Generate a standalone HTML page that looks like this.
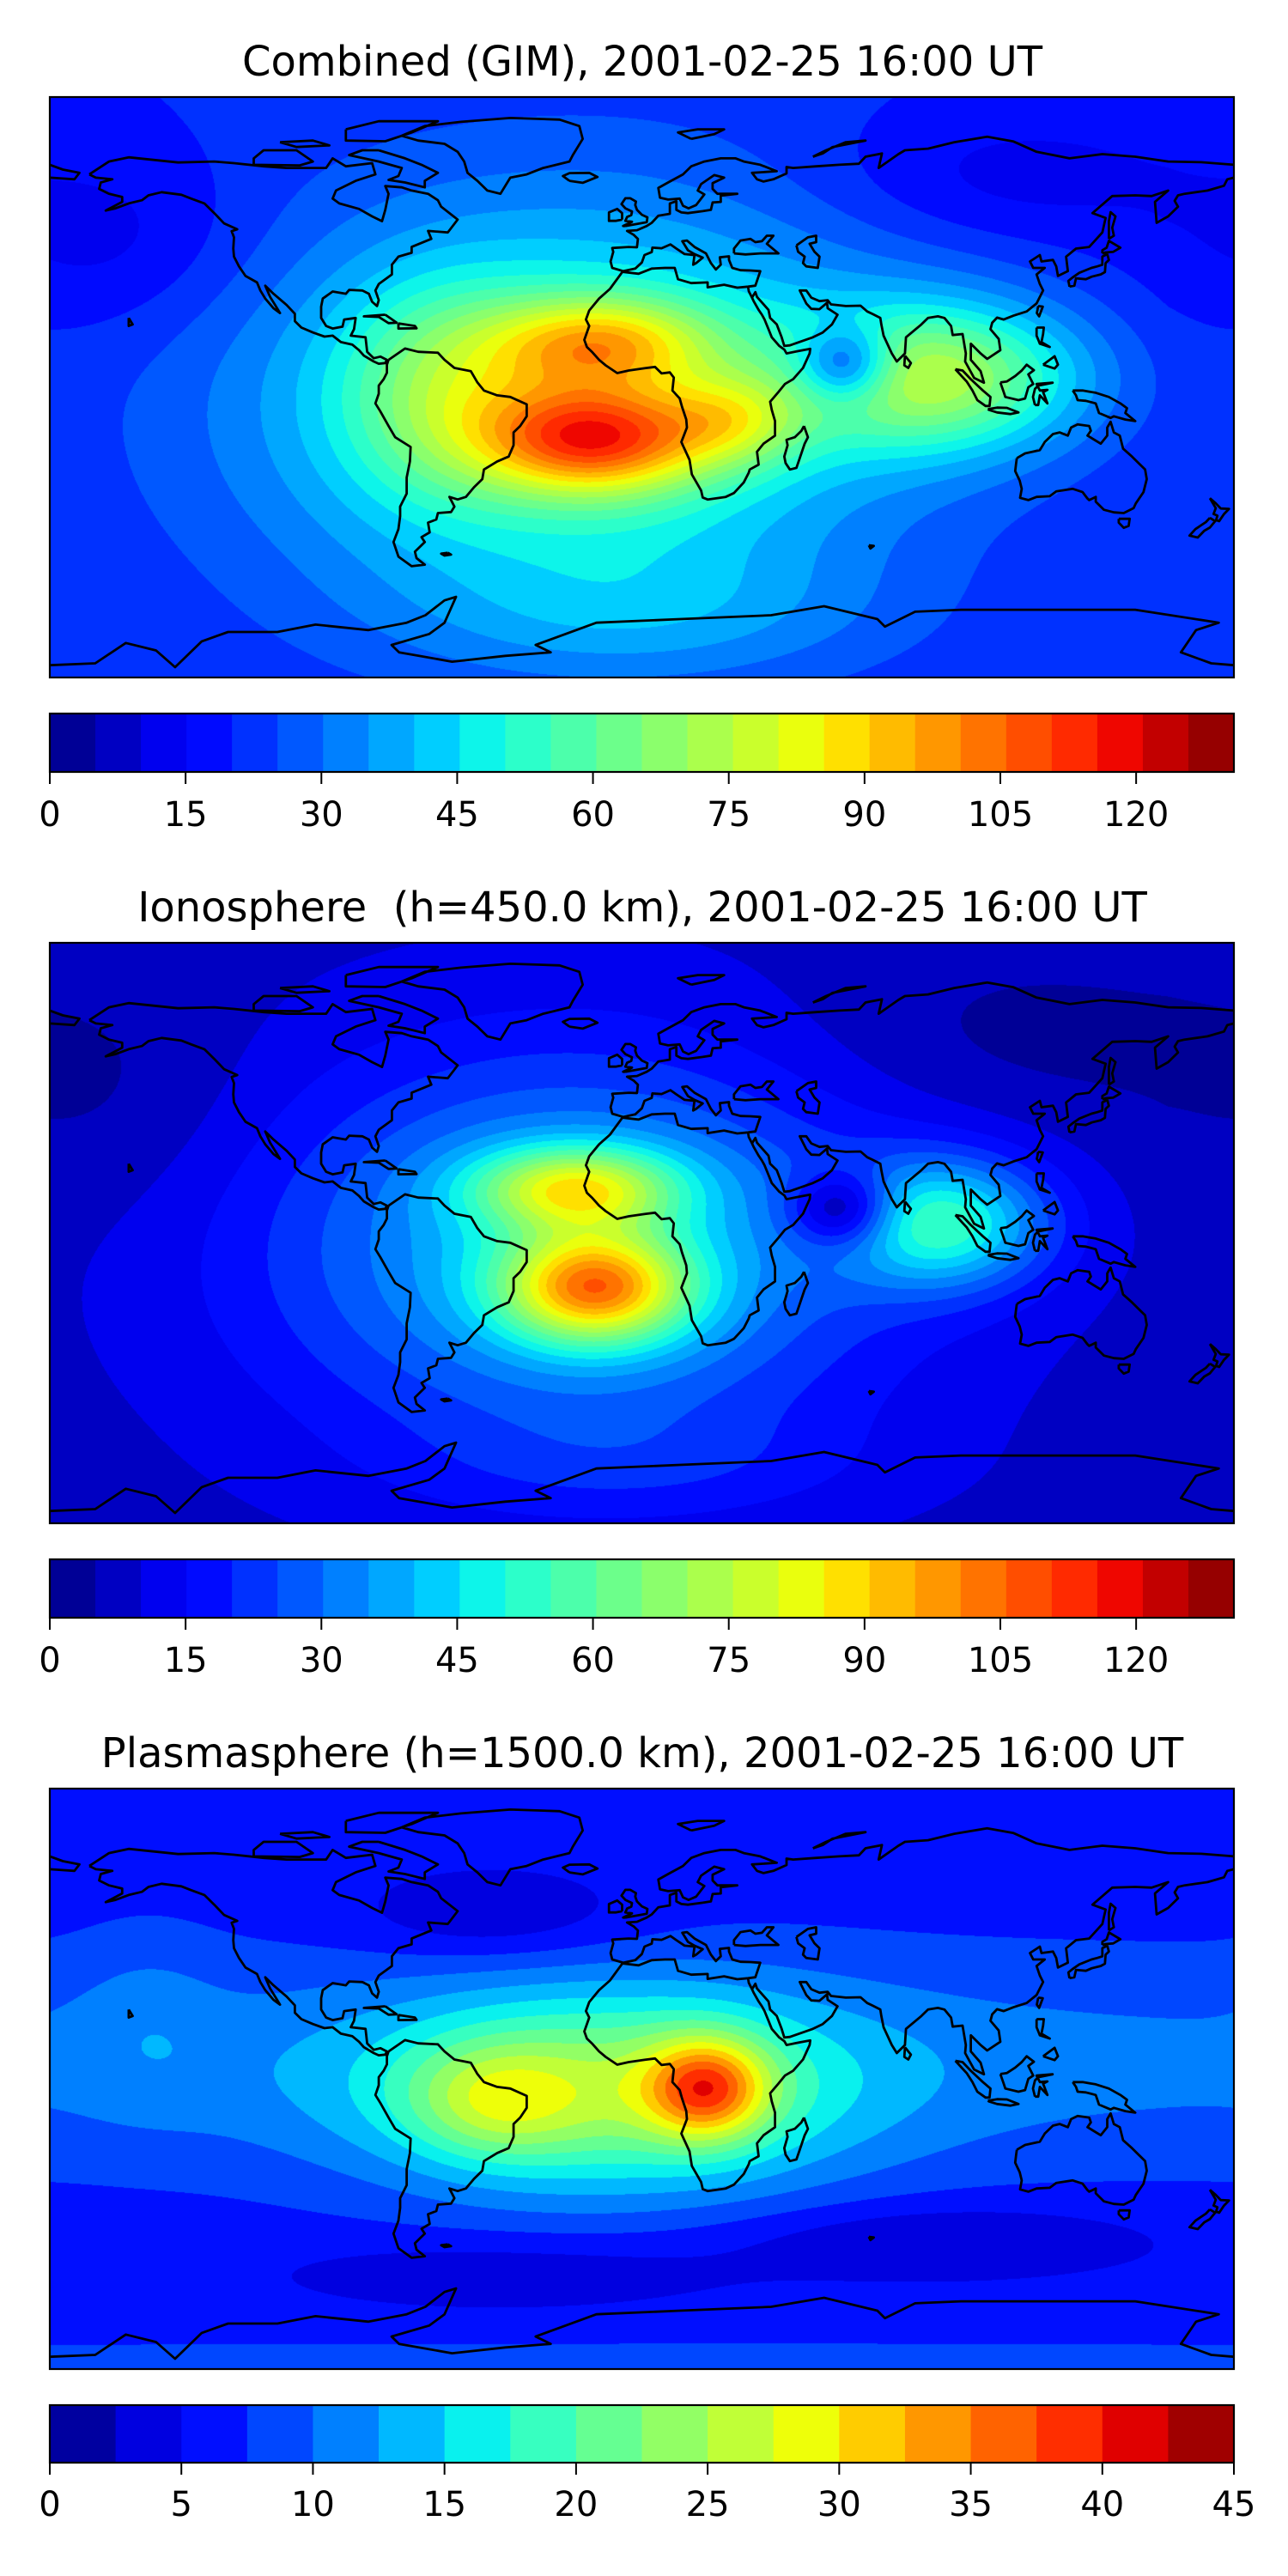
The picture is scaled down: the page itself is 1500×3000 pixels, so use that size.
<!DOCTYPE html>
<html><head><meta charset="utf-8">
<style>
html,body{margin:0;padding:0;background:#fff;}
body{width:1500px;height:3000px;position:relative;overflow:hidden;font-family:"DejaVu Sans","Liberation Sans",sans-serif;}
canvas{position:absolute;left:58px;}
#ov{position:absolute;left:0;top:0;}
</style></head>
<body>
<canvas id="m0" width="1379" height="676" style="top:113px"></canvas>
<canvas id="m1" width="1379" height="676" style="top:1098px"></canvas>
<canvas id="m2" width="1379" height="676" style="top:2083px"></canvas>
<svg id="ov" width="1500" height="3000" xmlns="http://www.w3.org/2000/svg">
<g font-family="DejaVu Sans, Liberation Sans, sans-serif" fill="#000">
<text x="748" y="88" font-size="48" text-anchor="middle">Combined (GIM), 2001-02-25 16:00 UT</text>
<text x="748" y="1073" font-size="48" text-anchor="middle" style="white-space:pre" xml:space="preserve">Ionosphere  (h=450.0 km), 2001-02-25 16:00 UT</text>
<text x="748" y="2058" font-size="48" text-anchor="middle">Plasmasphere (h=1500.0 km), 2001-02-25 16:00 UT</text>
</g>
<g id="coasts"></g>
<g id="cbars"></g>
</svg>
<script>
// ---- colorbar data ----
const cbMax = [130.8, 130.8, 45];
const cbBins = [26, 26, 18];
const ticks0 = [0, 15, 30, 45, 60, 75, 90, 105, 120];
const ticks1 = [0, 15, 30, 45, 60, 75, 90, 105, 120];
const ticks2 = [0, 5, 10, 15, 20, 25, 30, 35, 40, 45];

// ---- field data (Gaussian features) ----
const base0 = 20;
const blobLon0 = [-20, -14, -12, 28, 90, 62, -60, 110, -160, 0];
const blobLat0 = [-5, -16, 14, -10, 3, 7, -2, 65, 45, -70];
const blobAmp0 = [37, 60, 42, 25, 45, -32, 22, -8, -8, 10];
const blobSLon0 = [70, 24, 24, 15, 30, 10, 22, 40, 30, 50];
const blobSLat0 = [45, 12, 10, 10, 16, 8, 22, 15, 20, 15];

const base1 = 8;
const blobLon1 = [-20, -14, -20, 92, 61, 110, -160, 0];
const blobLat1 = [-5, -17, 14, 3, 7, 60, 40, -72];
const blobAmp1 = [35, 65, 48, 40, -28, -5, -4, 6];
const blobSLon1 = [65, 20, 22, 22, 11, 50, 30, 50];
const blobSLat1 = [42, 12, 9, 14, 8, 20, 25, 12];

const base2 = 6;
const blobLon2 = [0, 20, -10, -45, -150, -45, 90, -40, 0];
const blobLat2 = [5, -3, -5, -7, 20, 50, -50, -60, -88];
const blobAmp2 = [5, 18, 14, 8, 2, -4, -4, -3, 3];
const blobSLon2 = [400, 13, 50, 18, 15, 30, 45, 50, 400];
const blobSLat2 = [25, 11, 22, 12, 20, 10, 8, 8, 5];

const panels = [
  {base:base0, lon:blobLon0, lat:blobLat0, amp:blobAmp0, sl:blobSLon0, sb:blobSLat0, max:cbMax[0], bins:cbBins[0], ticks:ticks0, top:113, cbTop:831, cbH:68, lblY:962, name:'combined'},
  {base:base1, lon:blobLon1, lat:blobLat1, amp:blobAmp1, sl:blobSLon1, sb:blobSLat1, max:cbMax[1], bins:cbBins[1], ticks:ticks1, top:1098, cbTop:1816, cbH:68, lblY:1947, name:'ionosphere'},
  {base:base2, lon:blobLon2, lat:blobLat2, amp:blobAmp2, sl:blobSLon2, sb:blobSLat2, max:cbMax[2], bins:cbBins[2], ticks:ticks2, top:2083, cbTop:2801, cbH:67, lblY:2930, name:'plasmasphere'}
];

function interp(pts, t){
  for(let i=1;i<pts.length;i++){
    if(t<=pts[i][0]){const a=pts[i-1],b=pts[i];return a[1]+(b[1]-a[1])*(t-a[0])/(b[0]-a[0]);}
  }
  return pts[pts.length-1][1];
}
const JR=[[0,0],[0.35,0],[0.66,1],[0.89,1],[1,0.5]];
const JG=[[0,0],[0.125,0],[0.375,1],[0.64,1],[0.91,0],[1,0]];
const JB=[[0,0.5],[0.11,1],[0.34,1],[0.65,0],[1,0]];
function jet(t){return [Math.round(255*interp(JR,t)),Math.round(255*interp(JG,t)),Math.round(255*interp(JB,t))];}

const W=1379,H=676,L=58;
const NS='http://www.w3.org/2000/svg';

panels.forEach((p,pi)=>{
  const cv=document.getElementById('m'+pi);
  const ctx=cv.getContext('2d');
  const img=ctx.createImageData(W,H);
  const cols=[];for(let i=0;i<p.bins;i++)cols.push(jet((i+0.5)/p.bins));
  const n=p.lon.length;
  const gx=[],gy=[];
  for(let k=0;k<n;k++){
    const ax=new Float32Array(W),ay=new Float32Array(H);
    for(let x=0;x<W;x++){let lo=-180+(x+0.5)/W*360;let d=lo-p.lon[k];d=((d+540)%360)-180;ax[x]=Math.exp(-d*d/(2*p.sl[k]*p.sl[k]));}
    for(let y=0;y<H;y++){const la=90-(y+0.5)/H*180;const d=la-p.lat[k];ay[y]=Math.exp(-d*d/(2*p.sb[k]*p.sb[k]));}
    gx.push(ax);gy.push(ay);
  }
  const step=p.max/p.bins;
  for(let y=0;y<H;y++)for(let x=0;x<W;x++){
    let v=p.base;
    for(let k=0;k<n;k++)v+=p.amp[k]*gx[k][x]*gy[k][y];
    let b=Math.floor(v/step);if(b<0)b=0;if(b>=p.bins)b=p.bins-1;
    const c=cols[b],o=(y*W+x)*4;
    img.data[o]=c[0];img.data[o+1]=c[1];img.data[o+2]=c[2];img.data[o+3]=255;
  }
  ctx.putImageData(img,0,0);

  const g=document.getElementById('cbars');
  const bw=W/p.bins;
  for(let i=0;i<p.bins;i++){
    const c=cols[i];
    const r=document.createElementNS(NS,'rect');
    
    
    r.setAttribute('x',L+i*bw);r.setAttribute('y',p.cbTop);r.setAttribute('width',bw+0.6);r.setAttribute('height',p.cbH);
    r.setAttribute('fill','rgb('+c.join(',')+')');
    g.appendChild(r);
  }
  const fr=document.createElementNS(NS,'rect');
  
  
  fr.setAttribute('x',L);fr.setAttribute('y',p.cbTop);fr.setAttribute('width',W);fr.setAttribute('height',p.cbH);
  fr.setAttribute('fill','none');fr.setAttribute('stroke','#000');fr.setAttribute('stroke-width','2.2');
  g.appendChild(fr);
  p.ticks.forEach(t=>{
    const x=L+t/p.max*W;
    const tl=document.createElementNS(NS,'line');
    
    
    tl.setAttribute('x1',x);tl.setAttribute('x2',x);tl.setAttribute('y1',p.cbTop+p.cbH);tl.setAttribute('y2',p.cbTop+p.cbH+14);
    tl.setAttribute('stroke','#000');tl.setAttribute('stroke-width','2');
    g.appendChild(tl);
    const tx=document.createElementNS(NS,'text');
    
    
    tx.setAttribute('x',x);tx.setAttribute('y',p.lblY);tx.setAttribute('text-anchor','middle');
    tx.setAttribute('font-size','40');tx.setAttribute('font-family','DejaVu Sans, Liberation Sans, sans-serif');
    tx.textContent=String(t);
    g.appendChild(tx);
  });
});

const coastlines=[
[[-168,66],[-162,70],[-156,71.3],[-141,69.7],[-130,70],[-124,69.5],[-115,68.5],[-108,68],[-96,68],[-94,71],[-90,68.5],[-82,69.5],[-81,66],[-87,64],[-93,61],[-94,58.5],[-92,57],[-86,55.3],[-82,53],[-79,51.5],[-78,55],[-77,60],[-78,62.4],[-73,62],[-70,61],[-65,60],[-62,58],[-61,56],[-56,52],[-59,48],[-65,48.5],[-64,46],[-70,43.5],[-70,41.7],[-74,40.5],[-76,38],[-76,35],[-80,32],[-81,30],[-80,27],[-80.5,25.2],[-82,26.5],[-83,29],[-85,30],[-89,30.2],[-90,29],[-94,29.7],[-97,27.5],[-97.5,25],[-97.5,21.5],[-96,19],[-94,18.2],[-91,18.8],[-90.5,21],[-87,21.5],[-87.5,18],[-88.5,16],[-84,15.5],[-83.5,11],[-81.5,9],[-79.5,9.5],[-77.5,8.5],[-78,7.5],[-80,7.3],[-81.5,8],[-84.5,9.8],[-86,11.5],[-88,13.2],[-91.5,14],[-94,16],[-96.5,15.7],[-100,17],[-103.5,18.5],[-105.5,20.5],[-105.5,22.8],[-108,25.5],[-112,29],[-114.5,31.5],[-113,28],[-111.5,25.5],[-110,23],[-112,24.5],[-114.5,27.5],[-116,30],[-117,32.5],[-120.5,34.5],[-122.5,37.5],[-124,40.5],[-124.2,43],[-124,46.5],[-124.7,48.4],[-123,49],[-127,50.8],[-130,54],[-133,57],[-137,58.5],[-140,59.7],[-146,60.5],[-150,59.5],[-152,58],[-156,57],[-160,55.5],[-163,54.8],[-158,57.5],[-158,59],[-162,60],[-165,61.5],[-164.5,63.5],[-161,64.5],[-166,65],[-168,66]],
[[-73,78],[-66,81],[-55,82.3],[-40,83.5],[-25,83],[-19,81],[-18,77],[-21,72],[-22,70],[-30,68],[-35,66],[-40,65],[-43,60],[-47,61],[-50,64],[-53,66.5],[-54,70],[-56,73],[-60,75.5],[-68,76.5],[-73,78]],
[[-80,73.5],[-72,71],[-67,69],[-62,66.5],[-66,64],[-66,62],[-72,63.5],[-77,64.3],[-74,65.5],[-73,68],[-80,70],[-89,72],[-85,73.5],[-80,73.5]],
[[-90,80],[-80,82.5],[-62,82.5],[-70,79],[-78,76.3],[-90,76.5],[-90,80]],
[[-118,69],[-104,68.8],[-100,70],[-105,73.5],[-115,73.5],[-118,71],[-118,69]],
[[-110,76],[-100,76.5],[-95,75],[-105,74.5],[-110,76]],
[[-77,8.5],[-72,12],[-68,11],[-62,10.7],[-60,8.5],[-57,6],[-52,5],[-50,1.5],[-48,-1],[-44,-2.5],[-40,-3],[-35,-5.3],[-35,-9],[-37,-12],[-39,-14],[-39,-18],[-40.5,-21.5],[-44,-23],[-48,-25.5],[-48.5,-28.5],[-51,-31],[-53.5,-34],[-56,-34.8],[-58.5,-34],[-57,-37],[-58,-38.7],[-62,-39],[-62.5,-41],[-65,-42],[-64.5,-45],[-67,-46.5],[-66,-48],[-69,-51],[-68.5,-53],[-66,-55],[-70,-55.5],[-74,-52.5],[-75.5,-48],[-74,-44],[-73.5,-40],[-73.5,-37],[-71.5,-33],[-71.5,-28],[-70.5,-23],[-70.3,-18.5],[-75,-15.5],[-77,-12],[-79.5,-7.5],[-81,-5],[-80,-2],[-80,0.5],[-78.5,2.5],[-77.5,4.5],[-77.5,7],[-77,8.5]],
[[-5.6,36],[-9,37],[-9.5,39],[-8.7,42],[-9,43.2],[-4,43.5],[-1.5,43.4],[-1.2,46],[-2.5,47.3],[-4.5,48.5],[-1.5,48.7],[1.5,50],[3,51],[5,53.2],[8.5,53.8],[8.5,57],[10.5,57.7],[10.5,55],[12,54.2],[14,54],[18.5,54.6],[21,55],[21.5,57.3],[24,57.5],[24,59.4],[29,60],[23,60],[21.5,61.5],[21.5,63.3],[25,65],[22,65.8],[18,63],[17,61],[19,59.8],[16.5,56.5],[14.2,55.5],[12.5,56.3],[11.5,58.5],[8,58.2],[5.5,58.8],[5,61.8],[8,63.5],[12.5,66],[15,68.5],[19,70],[24,71],[28.5,71],[31,70],[36,69],[41,67],[33.5,66.5],[35,64.5],[37,63.8],[40,64.5],[44,66.3],[44,68.3],[46,68],[53,68.5],[60,69],[66,69.3],[68,71.5],[73,72.5],[72,68],[78,72.3],[80,73.5],[87,74],[95,76],[105,77.7],[113,76.2],[120,73],[130,71],[140,72.3],[150,71.5],[160,70],[170,69.8],[180,69]],
[[180,65],[178,64.5],[177,62.5],[172,61],[165,60],[163,59.5],[162,57.8],[163,56],[160,53],[156.5,51],[156,57.5],[160,61],[155,59.3],[150,59.5],[143,59.3],[137,54],[141,52.5],[140,48],[136,43.5],[132,43],[129,40.5],[129.5,36],[126.5,34.5],[126,37.5],[125,39.5],[121.5,39],[121,41],[118,39],[119,37],[122.5,37],[120,35],[121,32],[122,30],[120,26],[117,23.5],[113,22.2],[110,21],[108,21.6],[106.5,20],[106,18],[108.5,15],[109,11.5],[105,8.8],[103,10.5],[100,13.5],[100,8.5],[103,5],[104,1.4],[101,2.9],[98.3,8],[98.5,10.5],[97.5,16.5],[94.5,16.2],[94,19],[92,21.5],[90,22],[87,21.5],[85,19.5],[80.3,15.5],[80,10.5],[77.5,8],[76,10.5],[73.5,16],[72.8,19.5],[72.5,21.5],[70,22.8],[68.5,23.5],[66.5,25.3],[62,25.2],[57.5,25.7],[56.5,27],[54,26.7],[51.5,27.8],[50,30],[48,30],[50,26],[51.5,24.3],[54,24.2],[56.3,26.2],[56.5,24.5],[59.5,22.5],[57.8,19.5],[55,17],[52,15.5],[45,13],[43.3,12.8],[42.5,15.5],[41,19.5],[39,21.5],[38.5,24],[35,28],[34.5,29.5],[33.5,27.8]],
[[32.3,31.2],[34.5,31.5],[35,33],[36,36],[33,36.2],[30,36.3],[27.5,37],[26.5,39.5],[26.5,40.6],[23.7,40.3],[24,38],[22.5,36.5],[21,38.5],[19.5,41.5],[16,43.5],[13.7,45.5],[12.3,45.3],[14,42.5],[16,41.3],[18.5,40.2],[16.5,38.5],[15.6,38],[16,41],[13,41.3],[10.5,43],[8.7,44.3],[6,43.1],[3.2,43.3],[3,41.9],[0.8,41],[0,38.7],[-2,36.8],[-5.6,36]],
[[-180,69],[-176,67.5],[-171,66.5],[-172.5,64.5],[-180,65]],
[[28,41.5],[28,43],[30,45.5],[33,46],[34.5,45],[36.5,45.3],[38,47],[40,47],[38,44.5],[41.5,41.5],[36,41.5],[31.5,41.2],[28,41.5]],
[[47,44],[50.5,46.5],[53,47],[53,45],[51,44.5],[52.5,42],[54,40.5],[53.5,37],[50,37.5],[49,38.5],[49.5,40.5],[47.5,42],[47,44]],
[[32.3,31.2],[29,30.9],[25,31.8],[20,31],[20,32.5],[15,32.3],[11,33.5],[10,37],[7,37],[3,36.8],[-1,35.2],[-5.9,35.8],[-9.7,30.5],[-13,27.5],[-16,23.8],[-17,21],[-16,19],[-17.5,14.7],[-16.7,12.5],[-15,10.8],[-13,8.5],[-11,6.8],[-7.5,4.4],[-4,5.2],[1,5.9],[4,6.3],[6,4.3],[8.5,4.6],[9.7,3],[9.5,1],[9.3,-1],[11.5,-3.5],[12.2,-6],[13.5,-10],[13.7,-12.5],[12,-17],[14.5,-22.5],[15.2,-27],[18,-32],[18.5,-34.2],[20,-34.8],[25.5,-34],[28,-32.8],[31,-29.5],[32.5,-26.5],[32.8,-25.5],[35.5,-24],[35,-20],[37,-17.5],[40.5,-15],[40.5,-10.5],[39.5,-7],[39,-4.5],[41.5,-1.5],[43.5,1],[46,2.5],[49,6],[51,10.5],[51.2,11.9],[47.5,11.2],[44,10.5],[43.3,11.7],[41.8,12.8],[39.5,15.5],[38.5,18],[37.3,21],[36.5,22.5],[35.5,24],[34,26.7],[33.5,27.8],[32.5,29.8],[32.3,31.2]],
[[49.3,-12],[50.5,-15.5],[49.5,-17.5],[48,-22],[47,-25],[45,-25.5],[43.7,-23.5],[43.3,-21.5],[44.3,-18],[44,-16.3],[46.5,-15.5],[48.5,-13.5],[49.3,-12]],
[[-5,50],[1.5,51.2],[1.7,52.7],[0,53.5],[-1.5,55],[-2,56.5],[-1.8,57.6],[-3.5,58.6],[-5,58.6],[-6.2,56.8],[-5,55.5],[-3,54.5],[-3.2,53.4],[-4.5,52.8],[-5,51.6],[-3,51.3],[-5.7,50],[-5,50]],
[[-6,52],[-6,54],[-7.5,55.3],[-10,54.2],[-10,51.6],[-8,51.6],[-6,52]],
[[-22,64],[-24,65.5],[-22,66.4],[-16,66.5],[-13.5,65.2],[-18,63.4],[-22,64]],
[[15,77],[22,78.5],[25,80],[17,80],[11,79],[15,77]],
[[52,71.5],[56,73.5],[62,76],[68,76.5],[58,74.5],[55,72.5],[52,71.5]],
[[130,31.2],[131.5,31.5],[132,33.8],[135,33.5],[136.8,34.3],[139.5,35],[140.8,35.7],[141,38.5],[142,39.5],[141.5,41.3],[140,40.5],[140,38],[138.5,37.5],[136.7,37],[133,35.5],[130.9,34],[129.7,33],[130,31.2]],
[[140,41.5],[141,41.8],[143.3,42],[145.5,43.3],[142,45.4],[141.3,43.3],[140,42.5],[140,41.5]],
[[142,46],[143.5,47],[143,49.5],[144,53],[142.5,54.3],[142,51.5],[142,46]],
[[80,9.8],[81.8,7.5],[81,6],[79.8,6.8],[80,9.8]],
[[120.5,25.2],[121.9,25],[120.8,22],[120.1,23],[120.5,25.2]],
[[109,1.5],[110,-1.5],[110.5,-3],[114.5,-4],[116.5,-3.5],[117.5,0],[119,1],[117.5,4],[119.2,5.3],[117,7],[115.5,5.2],[113.5,3.5],[111,1.8],[109,1.5]],
[[95.3,5.6],[97.5,5.2],[100,2.5],[103.7,-1],[106,-3],[105.7,-5.8],[104.5,-5.8],[102,-4],[100.5,-1],[98.8,1.7],[95.3,5.6]],
[[105.2,-6.8],[108,-6.3],[111,-6.4],[114.5,-7.8],[112,-8.3],[108,-7.8],[105.5,-7],[105.2,-6.8]],
[[119.5,-5.5],[120.5,-5.5],[121,-2.5],[123.3,-5],[122,-1.5],[123.3,-0.8],[121,-1],[120,1],[124.9,1.4],[120.5,0.5],[119.5,-0.5],[118.9,-3],[119.5,-5.5]],
[[120,18.5],[122.2,18.5],[122,16.5],[121.5,14],[124,12.5],[121,13.5],[120.6,14.5],[120,16],[120,18.5]],
[[122,7],[125.5,9.6],[126.5,7],[125.5,5.8],[124,6.3],[122,7]],
[[131,-1],[134,-1],[138,-1.7],[142,-3],[145.5,-5],[147.5,-6.5],[147,-8],[150,-10.5],[147,-10],[143.5,-9],[142.5,-9.5],[139,-8],[138,-5],[135,-4.2],[132.5,-4],[132,-2.5],[131,-1]],
[[114,-22],[116.5,-20.5],[121,-19.5],[122.5,-17],[125,-14.5],[127,-14],[129.5,-15],[130.5,-12.5],[132.5,-11.5],[136,-12],[136.5,-13.5],[135.5,-15],[139.5,-17.5],[141.5,-15],[141.5,-12.5],[142.5,-10.7],[143.5,-14],[145.3,-15],[146.3,-19],[149,-21.5],[151,-23.5],[153,-25.5],[153.5,-28.5],[152.5,-32.5],[150.2,-36],[149.5,-37.5],[146.5,-39],[143.5,-38.8],[140.5,-38],[138,-35.5],[138,-34],[136,-35],[135.5,-34.5],[134,-32.5],[131,-31.5],[126,-32.3],[124,-33.8],[120,-34],[117.5,-35],[115,-34.3],[115.5,-31.5],[114.9,-29],[113.5,-26],[113.8,-23.5],[114,-22]],
[[145,-40.8],[148.3,-40.8],[148,-43],[146.5,-43.6],[145,-42],[145,-40.8]],
[[172.7,-34.4],[174.5,-36],[176,-37.6],[178.5,-37.7],[177,-39.3],[175.5,-41.5],[174.6,-41.2],[175,-39.8],[173.8,-39.3],[174.5,-37.5],[172.7,-34.4]],
[[172.7,-40.5],[174.3,-41.5],[172.7,-43.5],[171,-44.5],[169,-46.6],[166.5,-46],[168.3,-44],[171.5,-41.8],[172.7,-40.5]],
[[-180,-86.2],[-166.2,-85.6],[-156.9,-79.3],[-147.7,-81.6],[-141.9,-86.8],[-133.8,-78.8],[-125.8,-75.9],[-110.8,-75.9],[-99.2,-73.6],[-83.1,-75.3],[-71.5,-73],[-65.8,-70.7],[-60,-66.1],[-56.5,-65],[-60,-73],[-64.6,-76.5],[-76.1,-79.9],[-73.8,-82.2],[-57.7,-85.1],[-41.5,-83.3],[-27.7,-82.2],[-32.3,-79.9],[-13.8,-73],[11.6,-71.9],[39.3,-70.7],[55.4,-67.9],[71.6,-71.9],[73.9,-74.2],[83.1,-69.6],[97,-69],[120,-69],[150,-69],[175.4,-73],[168.5,-75.3],[163.9,-82.2],[173.1,-85.6],[180,-86.2]],
[[-59,-51.3],[-58,-51.9],[-60,-52.2],[-61,-51.6],[-59,-51.3]],
[[-78,22.5],[-74.5,20],[-77,19.9],[-80,21.8],[-84.5,22],[-78,22.5]],
[[-74,19.8],[-69,19],[-68.5,18.3],[-74,18.2],[-74,19.8]],
[[69,-49],[70.5,-49.2],[69.5,-50],[69,-49]],
[[-156,21.5],[-154.8,19.5],[-156,19],[-156,21.5]]
];
const cg=document.getElementById('coasts');
panels.forEach((p,pi)=>{
  const grp=document.createElementNS(NS,'g');
  
  
  const top=p.top;
  const px=lo=>L+(lo+180)/360*W;
  const py=la=>top+(90-la)/180*H;
  let d='';
  coastlines.forEach(line=>{
    line.forEach((pt,i)=>{d+=(i?'L':'M')+px(pt[0]).toFixed(1)+' '+py(pt[1]).toFixed(1);});
  });
  const path=document.createElementNS(NS,'path');
  
  
  path.setAttribute('d',d);path.setAttribute('fill','none');path.setAttribute('stroke','#000');
  path.setAttribute('stroke-width','2.8');path.setAttribute('stroke-linejoin','round');
  grp.appendChild(path);
  const fr=document.createElementNS(NS,'rect');
  
  
  fr.setAttribute('x',L);fr.setAttribute('y',top);fr.setAttribute('width',W);fr.setAttribute('height',H);
  fr.setAttribute('fill','none');fr.setAttribute('stroke','#000');fr.setAttribute('stroke-width','2.2');
  grp.appendChild(fr);
  cg.appendChild(grp);
});
</script>
</body></html>
